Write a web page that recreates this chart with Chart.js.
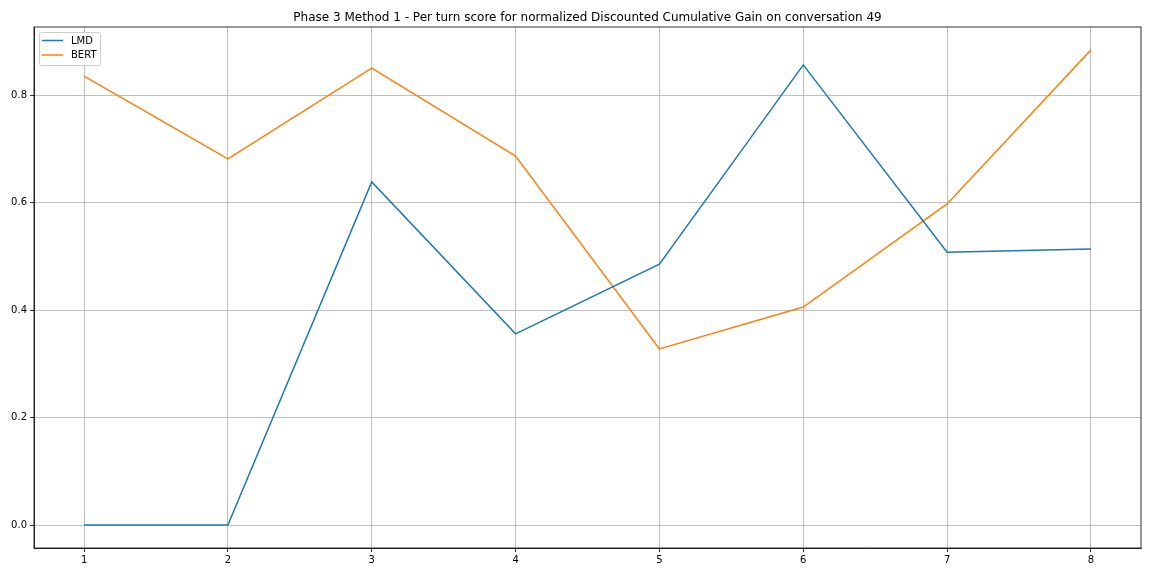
<!DOCTYPE html>
<html>
<head>
<meta charset="utf-8">
<script src="https://cdn.jsdelivr.net/npm/chart.js@4"></script>
<style>
html,body{margin:0;padding:0;background:#fff;}
#wrap{width:1152px;height:576px;position:relative;}
</style>
</head>
<body>
<div id="wrap"><canvas id="c" width="1152" height="576"></canvas></div>
<script>
const turns = [1, 2, 3, 4, 5, 6, 7, 8];
const lmdScores = [0.0, 0.0, 0.639, 0.356, 0.486, 0.857, 0.508, 0.514];
const bertScores = [0.836, 0.682, 0.851, 0.687, 0.328, 0.406, 0.598, 0.885];
const yTickValues = [0.0, 0.2, 0.4, 0.6, 0.8];
const seriesNames = ['LMD', 'BERT'];
const titleText = 'Phase 3 Method 1 - Per turn score for normalized Discounted Cumulative Gain on conversation 49';

const FONT = '"DejaVu Sans", sans-serif';
const colors = ['#1f77b4', '#ff7f0e'];

function pts(vals){ return turns.map((t,i)=>({x:t,y:vals[i]})); }

const framePlugin = {
  id: 'frame',
  afterDraw(chart){
    const ctx = chart.ctx, a = chart.chartArea;
    ctx.save();
    // spines
    ctx.strokeStyle = '#000';
    ctx.lineWidth = 0.8;
    ctx.strokeRect(a.left, a.top, a.right - a.left, a.bottom - a.top);
    // title
    ctx.fillStyle = '#000';
    ctx.font = '12px ' + FONT;
    ctx.textAlign = 'center';
    ctx.textBaseline = 'alphabetic';
    ctx.fillText(titleText, (a.left + a.right)/2, 20.5);
    // legend
    const lx = a.left + 5, ly = a.top + 5, lw = 61, lh = 33;
    ctx.fillStyle = 'rgba(255,255,255,0.8)';
    ctx.strokeStyle = '#cccccc';
    ctx.lineWidth = 1;
    ctx.beginPath();
    if (ctx.roundRect) ctx.roundRect(lx+0.5, ly+0.5, lw, lh, 2); else ctx.rect(lx+0.5, ly+0.5, lw, lh);
    ctx.fill(); ctx.stroke();
    ctx.font = '10px ' + FONT;
    ctx.textAlign = 'left';
    ctx.textBaseline = 'middle';
    seriesNames.forEach((n,i)=>{
      const y = ly + 8.5 + i*14.5;
      ctx.strokeStyle = colors[i];
      ctx.lineWidth = 1.5;
      ctx.beginPath(); ctx.moveTo(lx+3, y); ctx.lineTo(lx+24, y); ctx.stroke();
      ctx.fillStyle = '#000';
      ctx.fillText(n, lx+32, y+0.5);
    });
    ctx.restore();
  }
};

new Chart(document.getElementById('c'), {
  type: 'line',
  data: {
    datasets: [
      {label: seriesNames[0], data: pts(lmdScores), borderColor: colors[0], backgroundColor: colors[0], borderWidth: 1.5, pointRadius: 0, tension: 0, fill: false},
      {label: seriesNames[1], data: pts(bertScores), borderColor: colors[1], backgroundColor: colors[1], borderWidth: 1.5, pointRadius: 0, tension: 0, fill: false}
    ]
  },
  options: {
    responsive: false,
    animation: false,
    devicePixelRatio: 1,
    layout: {padding: {top: 27, right: 11, bottom: 0, left: 0}},
    plugins: {legend: {display: false}, title: {display: false}, tooltip: {enabled: false}},
    scales: {
      x: {
        type: 'linear',
        min: 0.652, max: 8.348,
        afterFit(s){ s.height = 28; },
        afterBuildTicks(s){ s.ticks = turns.map(v=>({value:v})); },
        ticks: {color: '#000', font: {family: FONT, size: 10}, padding: 2, maxRotation: 0, callback: v => String(v)},
        grid: {color: '#b0b0b0', lineWidth: 0.8, tickColor: '#000', tickLength: 4, drawOnChartArea: true},
        border: {color: '#000', width: 0.8}
      },
      y: {
        type: 'linear',
        min: -0.0428, max: 0.9276,
        afterFit(s){ s.width = 34; },
        afterBuildTicks(s){ s.ticks = yTickValues.map(v=>({value:v})); },
        ticks: {color: '#000', font: {family: FONT, size: 10}, padding: 3, callback: v => Number(v).toFixed(1)},
        grid: {color: '#b0b0b0', lineWidth: 0.8, tickColor: '#000', tickLength: 4},
        border: {color: '#000', width: 0.8}
      }
    }
  },
  plugins: [framePlugin]
});
</script>
</body>
</html>
